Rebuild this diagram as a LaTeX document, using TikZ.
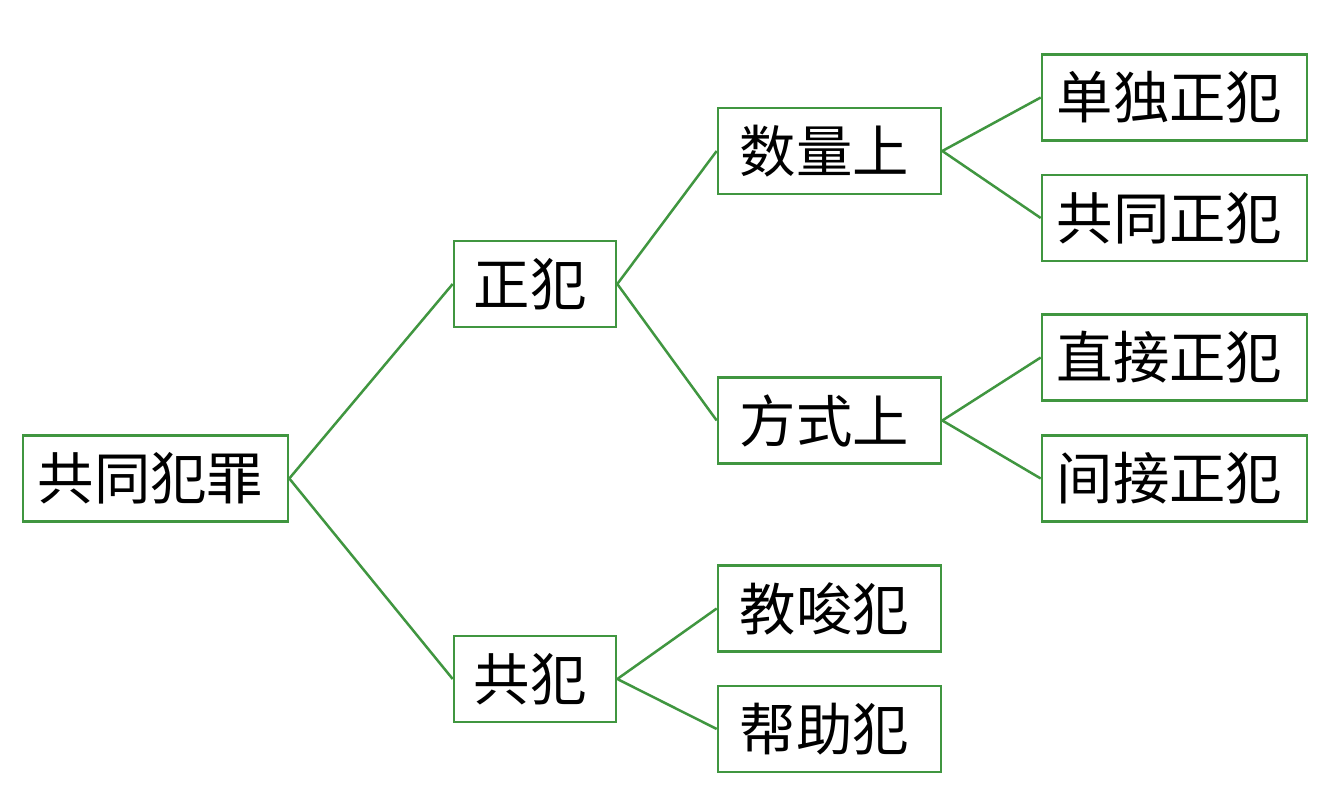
\documentclass[tikz,border=0pt]{standalone}
\usepackage{fontspec}
\newfontfamily\cjk{Noto Sans CJK SC}
\definecolor{boxgreen}{RGB}{64,150,64}
\newcommand{\bt}[1]{\raisebox{-1.5pt}{\kern-5pt #1}}
\tikzset{
  box/.style={draw=boxgreen, line width=1.3pt, fill=white, inner sep=0pt,
    minimum height=43pt, font=\cjk\fontsize{28.2}{32}\selectfont},
  w2/.style={box, minimum width=81pt},
  w3/.style={box, minimum width=111.5pt},
  w4/.style={box, minimum width=132.5pt},
  link/.style={draw=boxgreen, line width=1.25pt}
}
\begin{document}
\begin{tikzpicture}[x=0.5pt,y=-0.5pt]
\useasboundingbox (0,0) rectangle (1344,790);
\node[w4] (A) at (155.5,478.5) {\bt{共同犯罪}};
\node[w2] (B) at (535,284) {\bt{正犯}};
\node[w2] (C) at (535,679) {\bt{共犯}};
\node[w3] (D) at (829.5,151) {\bt{数量上}};
\node[w3] (E) at (829.5,420.5) {\bt{方式上}};
\node[w3] (F) at (829.5,608.5) {\bt{教唆犯}};
\node[w3] (G) at (829.5,729) {\bt{帮助犯}};
\node[w4] (H) at (1174.5,97.5) {\bt{单独正犯}};
\node[w4] (I) at (1174.5,218) {\bt{共同正犯}};
\node[w4] (J) at (1174.5,357.5) {\bt{直接正犯}};
\node[w4] (K) at (1174.5,478.5) {\bt{间接正犯}};
\draw[link] (A.east) -- (B.west);
\draw[link] (A.east) -- (C.west);
\draw[link] (B.east) -- (D.west);
\draw[link] (B.east) -- (E.west);
\draw[link] (C.east) -- (F.west);
\draw[link] (C.east) -- (G.west);
\draw[link] (D.east) -- (H.west);
\draw[link] (D.east) -- (I.west);
\draw[link] (E.east) -- (J.west);
\draw[link] (E.east) -- (K.west);
\end{tikzpicture}
\end{document}
